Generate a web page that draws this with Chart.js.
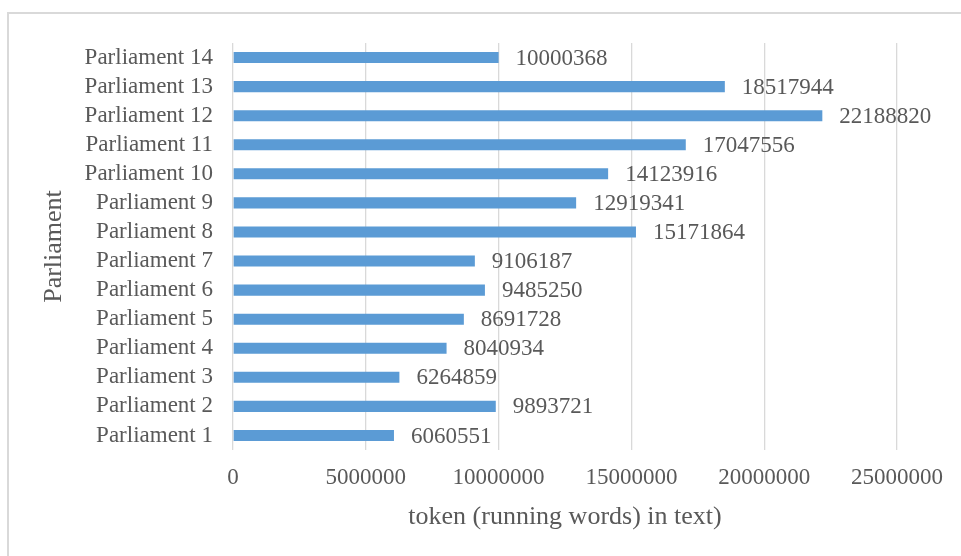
<!DOCTYPE html>
<html>
<head>
<meta charset="utf-8">
<script src="https://cdn.jsdelivr.net/npm/chart.js@4/dist/chart.umd.min.js"></script>
<style>
  html, body { margin: 0; padding: 0; background: #fff; overflow: hidden; }
  #wrap { position: relative; width: 961px; height: 556px; }
  #frame { position: absolute; left: 7px; top: 12px; width: 1000px; height: 600px; border: 2px solid #d9d9d9; box-sizing: border-box; }
  canvas { position: absolute; left: 0; top: 0; }
</style>
</head>
<body>
<div id="wrap">
  <div id="frame"></div>
  <canvas id="tokensChart" width="961" height="556"></canvas>
</div>
<script>
// Tokens per parliament
const parliaments = ['Parliament 1', 'Parliament 2', 'Parliament 3', 'Parliament 4', 'Parliament 5',
  'Parliament 6', 'Parliament 7', 'Parliament 8', 'Parliament 9', 'Parliament 10',
  'Parliament 11', 'Parliament 12', 'Parliament 13', 'Parliament 14'];
const tokens = [6060551, 9893721, 6264859, 8040934, 8691728, 9485250, 9106187,
  15171864, 12919341, 14123916, 17047556, 22188820, 18517944, 10000368];
const xTicks = [0, 5000000, 10000000, 15000000, 20000000, 25000000];

const textColor = '#595959';
const serif = 'Liberation Serif, Times New Roman, serif';

// value printed to the right of each bar
const barLabels = {
  id: 'barLabels',
  afterDatasetsDraw(chart) {
    const ctx = chart.ctx;
    const meta = chart.getDatasetMeta(0);
    ctx.save();
    ctx.font = '23px ' + serif;
    ctx.fillStyle = textColor;
    ctx.textAlign = 'left';
    ctx.textBaseline = 'middle';
    meta.data.forEach((bar, i) => {
      ctx.fillText(String(tokens[i]), bar.x + 17, bar.y + 1);
    });
    ctx.restore();
  }
};

new Chart(document.getElementById('tokensChart'), {
  type: 'bar',
  data: {
    labels: parliaments,
    datasets: [{
      data: tokens,
      backgroundColor: '#5b9bd5',
      borderWidth: 0,
      categoryPercentage: 1,
      barPercentage: 0.38
    }]
  },
  options: {
    indexAxis: 'y',
    responsive: false,
    animation: false,
    layout: { padding: { top: 43, right: 64, bottom: 0, left: 0 } },
    plugins: { legend: { display: false }, tooltip: { enabled: false } },
    scales: {
      x: {
        min: 0,
        max: 25000000,
        afterBuildTicks: scale => { scale.ticks = xTicks.map(v => ({ value: v })); },
        afterFit: scale => { scale.height = 106; },
        grid: { color: '#d9d9d9', lineWidth: 1.3, drawTicks: false },
        border: { display: false },
        ticks: {
          padding: 14,
          color: textColor,
          font: { family: serif, size: 23 },
          callback: v => String(v),
          maxRotation: 0
        },
        title: {
          display: true,
          text: 'token (running words) in text)',
          color: textColor,
          font: { family: serif, size: 26 },
          padding: { top: 0, bottom: 23 }
        }
      },
      y: {
        reverse: true,
        afterFit: scale => { scale.width = 233; },
        grid: { display: false, drawTicks: false },
        border: { display: false },
        ticks: {
          padding: 20,
          color: textColor,
          font: { family: serif, size: 23 },
          autoSkip: false
        },
        title: {
          display: true,
          text: 'Parliament',
          color: textColor,
          font: { family: serif, size: 26 },
          padding: { top: 39, bottom: 0 }
        }
      }
    }
  },
  plugins: [barLabels]
});
</script>
</body>
</html>
